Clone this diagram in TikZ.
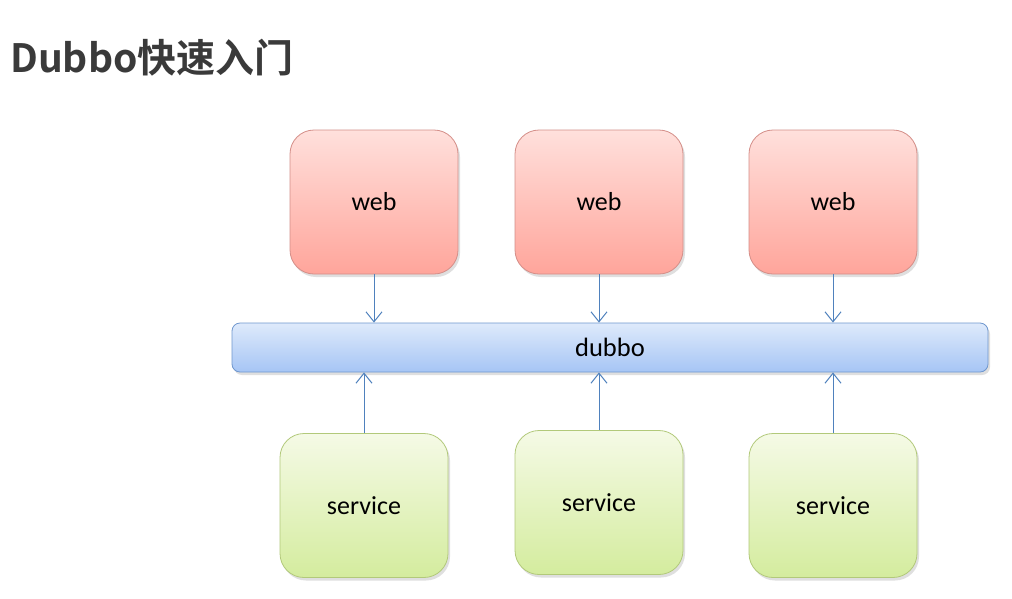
\documentclass[tikz,border=0pt]{standalone}
\usepackage{fontspec}
\setmainfont{Carlito}
\newfontfamily\cjkbold{Noto Sans CJK SC}[BoldFont={* Bold}]
\usetikzlibrary{arrows.meta,shadows}
\definecolor{titlegray}{HTML}{3A3A3A}
\definecolor{arrowblue}{HTML}{4F81BD}
\definecolor{webdraw}{HTML}{D48E88}
\definecolor{webtop}{RGB}{255,224,220}
\definecolor{webbot}{RGB}{255,165,155}
\definecolor{servdraw}{HTML}{B2C97A}
\definecolor{servtop}{RGB}{245,250,230}
\definecolor{servbot}{RGB}{212,236,158}
\definecolor{bardraw}{HTML}{6F97CE}
\definecolor{bartop}{RGB}{222,234,251}
\definecolor{barbot}{RGB}{166,197,245}
\tikzset{
  boxbase/.style={rounded corners=24pt, minimum width=168pt, minimum height=144pt,
    line width=0.8pt, font=\fontsize{26}{30}\selectfont, text=black,
    drop shadow={shadow xshift=2pt, shadow yshift=-3pt, opacity=0.25, fill=gray}},
  webbox/.style={boxbase, draw=webdraw, top color=webtop, bottom color=webbot},
  servbox/.style={boxbase, draw=servdraw, top color=servtop, bottom color=servbot},
  barbox/.style={rounded corners=8pt, minimum width=756pt, minimum height=49pt,
    line width=0.8pt, draw=bardraw, top color=bartop, bottom color=barbot,
    font=\fontsize{26.5}{30}\selectfont, text=black,
    drop shadow={shadow xshift=2pt, shadow yshift=-3pt, opacity=0.25, fill=gray}},
  arr/.style={draw=arrowblue, line width=1pt, -{Straight Barb[length=10pt,width=16pt,line width=1pt]}},
}
\begin{document}
\begin{tikzpicture}[x=1pt,y=-1pt]
\useasboundingbox[fill=white] (0,0) rectangle (1012,598);
\node[anchor=base west, inner sep=0pt, text=titlegray, font=\cjkbold\bfseries\fontsize{39}{42}\selectfont] (title) at (10,72) {Dubbo快速入门};
\node[webbox] (w1) at (374,202) {web};
\node[webbox] (w2) at (599,202) {web};
\node[webbox] (w3) at (833,202) {web};
\node[barbox] (bar) at (610,347.5) {dubbo};
\node[servbox] (s1) at (364,505.5) {service};
\node[servbox] (s2) at (599,502.5) {service};
\node[servbox] (s3) at (833,505.5) {service};
\draw[arr] (w1.south) -- (w1.south |- bar.north);
\draw[arr] (w2.south) -- (w2.south |- bar.north);
\draw[arr] (w3.south) -- (w3.south |- bar.north);
\draw[arr] (s1.north) -- (s1.north |- bar.south);
\draw[arr] (s2.north) -- (s2.north |- bar.south);
\draw[arr] (s3.north) -- (s3.north |- bar.south);
\end{tikzpicture}
\end{document}
